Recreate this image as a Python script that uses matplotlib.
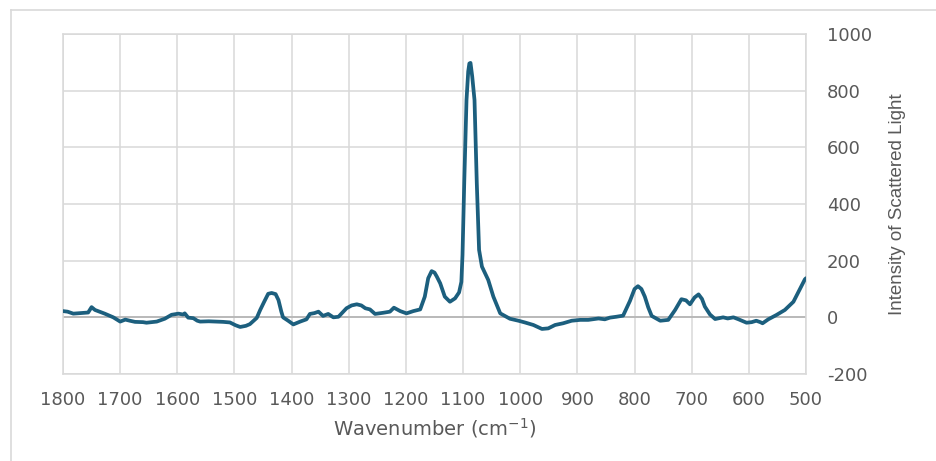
import matplotlib.pyplot as plt
from matplotlib.lines import Line2D
import numpy as np

plt.rcParams['axes.unicode_minus'] = False

# spectrum (wavenumber, intensity)
wavenumber = [1800, 1792, 1782, 1770, 1762, 1756, 1750, 1744, 1736, 1727, 1712, 1700,
              1691, 1683, 1674, 1660, 1654, 1636, 1622, 1610, 1598, 1590, 1587, 1581,
              1572, 1565, 1560, 1545, 1531, 1520, 1508, 1498, 1490, 1480, 1473, 1461,
              1455, 1448, 1441, 1435, 1428, 1423, 1418, 1415, 1406, 1397, 1385, 1374,
              1368, 1360, 1353, 1345, 1336, 1327, 1318, 1304, 1295, 1286, 1278, 1271,
              1263, 1254, 1240, 1228, 1221, 1210, 1199, 1187, 1175, 1167, 1161, 1155,
              1150, 1146, 1140, 1132, 1123, 1114, 1107, 1103, 1101, 1098, 1094, 1091, 1089,
              1087, 1084, 1080, 1076, 1072, 1067, 1056, 1047, 1035, 1018, 1003, 992, 977,
              962, 951, 939, 925, 910, 895, 881, 863, 852, 843, 832, 820,
              808, 800, 794, 788, 782, 776, 770, 755, 741, 729, 718, 710,
              703, 695, 688, 682, 677, 668, 659, 645, 637, 627, 618, 604,
              595, 587, 580, 576, 566, 552, 537, 522, 510, 502, 500]
intensity = [22, 20, 13, 15, 16, 17, 36, 26, 20, 13, 0, -15,
             -8, -12, -16, -17, -19, -15, -5, 9, 13, 10, 14, -1,
             -3, -12, -15, -14, -15, -16, -18, -28, -34, -30, -24, -2,
             26, 55, 83, 86, 82, 61, 20, 0, -12, -25, -15, -7,
             12, 15, 20, 5, 12, 0, 2, 32, 42, 46, 42, 32,
             28, 12, 16, 20, 34, 22, 14, 22, 28, 73, 138, 163,
             158, 144, 120, 73, 55, 67, 88, 125, 220, 473, 767, 868, 896,
             898, 850, 767, 473, 238, 179, 132, 73, 14, -5, -12, -18, -27,
             -41, -39, -27, -21, -12, -9, -9, -4, -7, -1, 2, 6,
             58, 100, 110, 100, 73, 35, 5, -12, -9, 26, 64, 60,
             46, 70, 81, 65, 38, 10, -6, 0, -4, 0, -7, -19,
             -17, -12, -17, -21, -7, 8, 26, 55, 102, 134, 138]

x_ticks = list(range(1800, 499, -100))
y_ticks = list(range(-200, 1001, 200))

grid_col = '#d9d9d9'
text_col = '#595959'
line_col = '#1c5f7e'

fig = plt.figure(figsize=(9.36, 4.61), dpi=100)
ax = fig.add_axes([63/936, 1 - 374/461, (806 - 63)/936, (374 - 34)/461])

ax.plot(wavenumber, intensity, color=line_col, lw=2.7, solid_joinstyle='round',
        solid_capstyle='round', zorder=3)

ax.set_xlim(1800, 500)
ax.set_ylim(-200, 1000)
ax.set_xticks(x_ticks)
ax.set_yticks(y_ticks)
ax.grid(True, color=grid_col, lw=1.1)
ax.axhline(0, color='#b3b3b3', lw=1.2, zorder=2)
for s in ax.spines.values():
    s.set_color(grid_col)
    s.set_linewidth(1.1)

ax.yaxis.tick_right()
ax.yaxis.set_label_position('right')
ax.tick_params(length=0, labelsize=13, labelcolor=text_col)
ax.tick_params(axis='x', pad=12)
ax.tick_params(axis='y', pad=15)
for lab in ax.get_yticklabels():
    lab.set_horizontalalignment('left')

ax.set_xlabel('Wavenumber (cm$^{-1}$)', fontsize=14, color=text_col, labelpad=5)
ax.set_ylabel('Intensity of Scattered Light', fontsize=13.5, color=text_col, labelpad=12,
              family=['Liberation Sans', 'DejaVu Sans'])

# light outer frame (clipped at right and bottom in the reference)
fig.add_artist(Line2D([11/936, 11/936], [0, 1 - 10/461], color=grid_col, lw=1.2))
fig.add_artist(Line2D([11/936, 1], [1 - 10/461, 1 - 10/461], color=grid_col, lw=1.2))

fig.savefig('out.png', dpi=100)
